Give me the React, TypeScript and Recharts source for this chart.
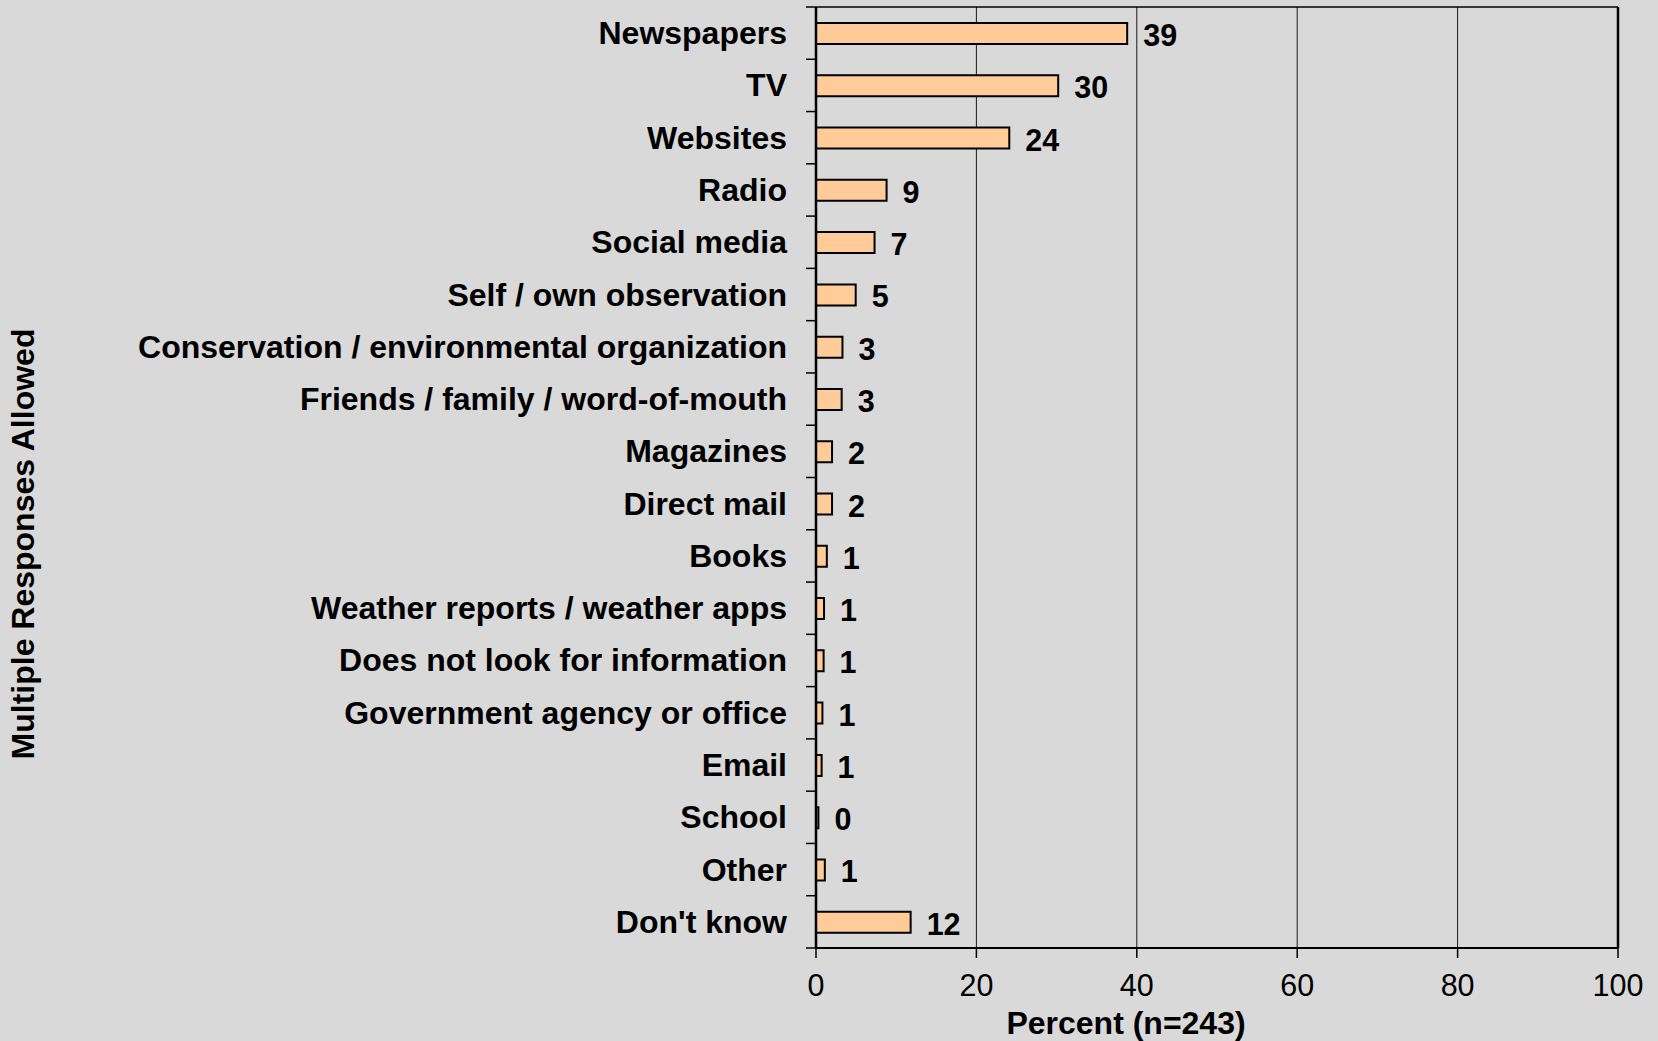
import React from 'react';
import { BarChart, Bar, XAxis, YAxis, CartesianGrid, LabelList, Label, ReferenceLine } from 'recharts';

const categories = [
  'Newspapers',
  'TV',
  'Websites',
  'Radio',
  'Social media',
  'Self / own observation',
  'Conservation / environmental organization',
  'Friends / family / word-of-mouth',
  'Magazines',
  'Direct mail',
  'Books',
  'Weather reports / weather apps',
  'Does not look for information',
  'Government agency or office',
  'Email',
  'School',
  'Other',
  "Don't know",
];

const percents = [38.8, 30.2, 24.1, 8.8, 7.3, 4.95, 3.3, 3.2, 2.0, 2.0, 1.35, 1.0, 0.95, 0.8, 0.7, 0.3, 1.1, 11.8];
const shownLabels = ['39', '30', '24', '9', '7', '5', '3', '3', '2', '2', '1', '1', '1', '1', '1', '0', '1', '12'];
const xTicks = [0, 20, 40, 60, 80, 100];
const xMax = 100;

const data = categories.map((name, i) => ({ name, value: percents[i], label: shownLabels[i] }));

const FONT = '"Liberation Sans", Arial, Helvetica, sans-serif';

const CategoryTick = (props: any) => {
  const { x, y, payload, index, visibleTicksCount } = props;
  const half = payload && payload.offset ? payload.offset : 0;
  const axisX = x;
  const last = index === (visibleTicksCount ?? categories.length) - 1;
  return (
    <g>
      <line x1={axisX - 10} x2={axisX} y1={y - half} y2={y - half} stroke="#000" strokeWidth={1.5} />
      {last ? (
        <line x1={axisX - 10} x2={axisX} y1={y + half} y2={y + half} stroke="#000" strokeWidth={1.5} />
      ) : null}
      <text
        x={axisX - 29}
        y={y + 11}
        textAnchor="end"
        fontFamily={FONT}
        fontWeight="bold"
        fontSize={32}
        fill="#000"
      >
        {payload.value}
      </text>
    </g>
  );
};

const ValueLabel = (props: any) => {
  const { x, y, width, height, value } = props;
  return (
    <text
      x={x + width + 16}
      y={y + height / 2 + 12.5}
      textAnchor="start"
      fontFamily={FONT}
      fontWeight="bold"
      fontSize={30.5}
      fill="#000"
    >
      {value}
    </text>
  );
};

const YTitle = () => (
  <text
    x={34}
    y={544}
    transform="rotate(-90 34 544)"
    textAnchor="middle"
    fontFamily={FONT}
    fontWeight="bold"
    fontSize={32}
    fill="#000"
  >
    Multiple Responses Allowed
  </text>
);

const XTitle = () => (
  <text
    x={1126}
    y={1034}
    textAnchor="middle"
    fontFamily={FONT}
    fontWeight="bold"
    fontSize={32}
    fill="#000"
  >
    Percent (n=243)
  </text>
);

export default function App() {
  return (
    <div style={{ position: 'absolute', left: 0, top: 0, width: 1658, height: 1041, background: '#D9D9D9' }}>
      <BarChart
        width={1658}
        height={1041}
        data={data}
        layout="vertical"
        margin={{ top: 7, right: 40, bottom: 0, left: 0 }}
        barSize={21}
      >
        <CartesianGrid horizontal={false} vertical={true} stroke="#1a1a1a" strokeWidth={1} xAxisId="main" yAxisId="main" />
        <XAxis
          xAxisId="main"
          type="number"
          domain={[0, xMax]}
          ticks={xTicks}
          tickSize={10}
          tickMargin={16}
          height={93}
          axisLine={{ stroke: '#000', strokeWidth: 2 }}
          tickLine={{ stroke: '#000', strokeWidth: 1.5 }}
          tick={{ fontFamily: FONT, fontSize: 30.5, fill: '#000' }}
        >
          <Label content={<XTitle />} />
        </XAxis>
        <YAxis
          yAxisId="main"
          type="category"
          dataKey="name"
          width={816}
          tickLine={false}
          tickSize={0}
          tickMargin={0}
          interval={0}
          axisLine={{ stroke: '#000', strokeWidth: 2.5 }}
          tick={<CategoryTick />}
        >
          <Label content={<YTitle />} />
        </YAxis>
        <ReferenceLine
          xAxisId="main"
          yAxisId="main"
          x={xMax}
          stroke="#000"
          strokeWidth={2.5}
        />
        <ReferenceLine
          xAxisId="main"
          yAxisId="main"
          y={categories[0]}
          position="start"
          stroke="#000"
          strokeWidth={1.5}
        />
        <Bar
          xAxisId="main"
          yAxisId="main"
          dataKey="value"
          fill="#FFCC99"
          stroke="#000"
          strokeWidth={2}
          isAnimationActive={false}
        >
          <LabelList dataKey="label" content={<ValueLabel />} />
        </Bar>
      </BarChart>
    </div>
  );
}
